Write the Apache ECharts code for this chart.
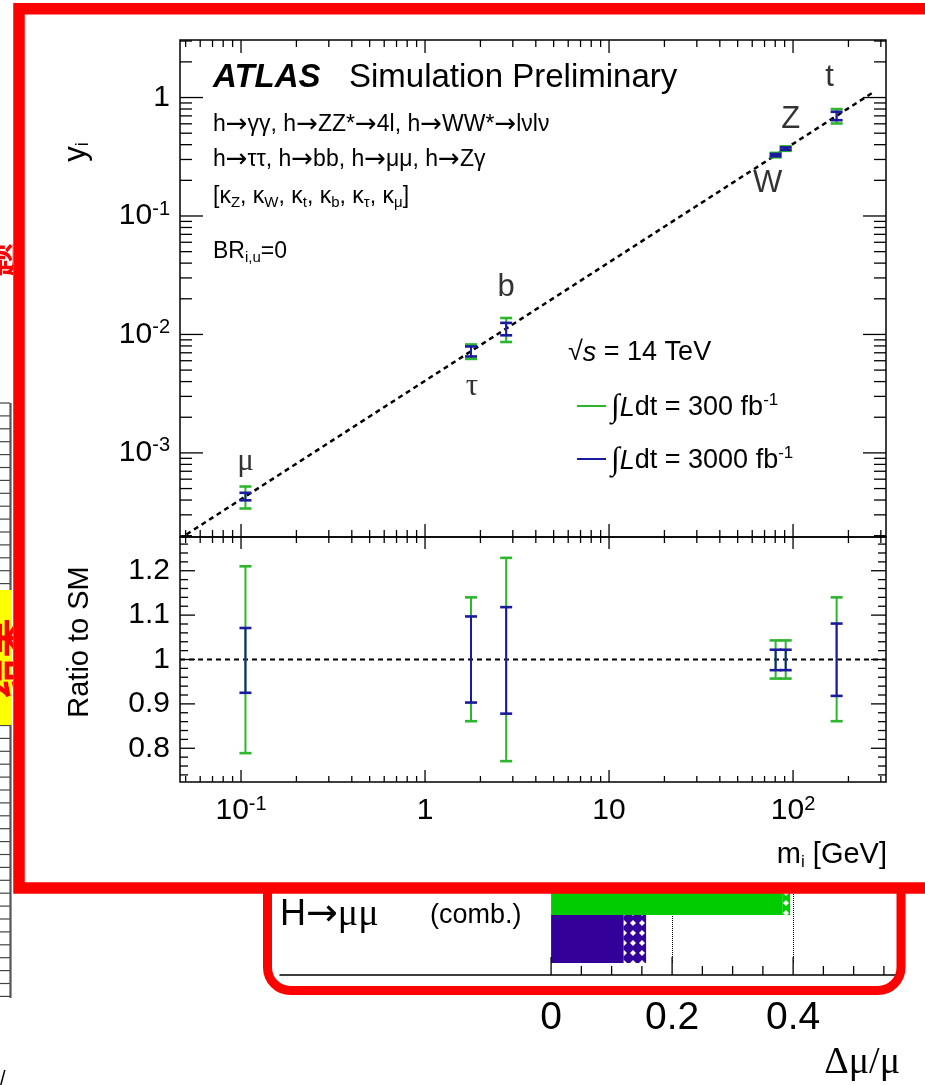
<!DOCTYPE html>
<html>
<head>
<meta charset="utf-8">
<script src="https://cdn.jsdelivr.net/npm/echarts@6/dist/echarts.min.js"></script>
<style>
  html, body { margin: 0; padding: 0; background: #ffffff; }
  #main { width: 925px; height: 1085px; }
</style>
</head>
<body>
<div id="main"></div>
<script>
// ---- Data -------------------------------------------------------------
// Fermion / boson masses m_i [GeV]
const particles = ['μ', 'τ', 'b', 'W', 'Z', 't'];
const masses = [0.1057, 1.777, 2.76, 80.4, 91.2, 172.5];
// Reduced couplings y_i (central values)
const yValues = [4.30e-4, 7.22e-3, 1.12e-2, 0.327, 0.371, 0.701];
// Ratio-to-SM uncertainty ranges, 300 fb-1
const ratio300Lo = [0.789, 0.861, 0.771, 0.957, 0.957, 0.861];
const ratio300Hi = [1.210, 1.140, 1.229, 1.043, 1.043, 1.140];
// Ratio-to-SM uncertainty ranges, 3000 fb-1
const ratio3000Lo = [0.925, 0.903, 0.878, 0.976, 0.976, 0.918];
const ratio3000Hi = [1.071, 1.097, 1.118, 1.022, 1.022, 1.081];
// SM expectation y = m / v (end points of the dashed line)
const smLineMass = [0.0505, 270];
const smLineY = [2.05e-4, 1.097];
// Tick labels
const massTickValues = [0.1, 1, 10, 100];
const massTickBase = ['10', '1', '10', '10'];
const massTickExp = ['-1', '', '', '2'];
const yTickValues = [1e-3, 1e-2, 1e-1, 1];
const yTickBase = ['10', '10', '10', '1'];
const yTickExp = ['-3', '-2', '-1', ''];
const ratioTickValues = [0.8, 0.9, 1.0, 1.1, 1.2];
const ratioTickLabels = ['0.8', '0.9', '1', '1.1', '1.2'];
// H -> mumu signal-strength precision Δμ/μ
const muCategories = ['3000 fb-1', '300 fb-1'];
const muStat = [0.120, 0.382];
const muTotal = [0.157, 0.395];
const muTickValues = [0, 0.2, 0.4];
const muTickLabels = ['0', '0.2', '0.4'];

// ---- Layout & style -------------------------------------------------------
const FONT = '"Liberation Sans", Arial, Helvetica, sans-serif';
const SERIF = '"Liberation Serif", "Times New Roman", serif';
const ARROW_FONT = '"DejaVu Sans", sans-serif';
const GREEN = '#2db52d';
const BLUE = '#1a1a9c';
const BAR_GREEN = '#00cc00';
const BAR_BLUE = '#330099';
const X_MIN = 0.0466, X_MAX = 320;
const Y_MIN = 1.95e-4, Y_MAX = 3.06;
const R_MIN = 0.724, R_MAX = 1.276;
const MU_MIN = -0.448, MU_MAX = 0.570;
const particleLabelOffsets = [[0, -34], [1, 36], [0, -41], [-8, 28], [5, -29], [-7, -38]];
const particleLabelFonts = [SERIF, SERIF, FONT, FONT, FONT, FONT];

// ---- Helpers -------------------------------------------------------------
function logTicks(min, max) {
  const out = [];
  for (let e = Math.floor(Math.log10(min)); e <= Math.ceil(Math.log10(max)); e++) {
    for (let k = 1; k <= 9; k++) {
      const v = k * Math.pow(10, e);
      if (v >= min * 1.0001 && v <= max * 0.9999) out.push([v, k === 1 ? 1 : 0]);
    }
  }
  return out;
}
function linTicks(step, iFrom, iTo, majorEvery) {
  const out = [];
  for (let i = iFrom; i <= iTo; i++) out.push([+(i * step).toFixed(6), i % majorEvery === 0 ? 1 : 0]);
  return out;
}
function matchIndex(v, values, log) {
  for (let i = 0; i < values.length; i++) {
    const d = log ? Math.abs(Math.log10(v) - Math.log10(values[i])) : Math.abs(v - values[i]);
    if (d < 1e-6) return i;
  }
  return -1;
}
function powerLabel(v, values, base, exp) {
  const i = matchIndex(v, values, true);
  if (i < 0) return '';
  return '{b|' + base[i] + '}' + (exp[i] ? '{p|' + exp[i] + '}' : '');
}
const tickRich = {
  b: { fontSize: 30, fontFamily: FONT, color: '#000', lineHeight: 34 },
  p: { fontSize: 20, fontFamily: FONT, color: '#000', lineHeight: 20, verticalAlign: 'top' }
};

// Tick marks drawn inward on the frame, positioned by the axis scales
function xTickSeries(idx, ticks, yRef, majorLen, minorLen, withTop, bottomOffset) {
  return {
    type: 'custom', xAxisIndex: idx, yAxisIndex: idx, z: 12, silent: true,
    encode: { x: 0, y: 1 },
    data: ticks.map(t => [t[0], yRef, t[1]]),
    renderItem(params, api) {
      const cs = params.coordSys;
      const x = api.coord([api.value(0), yRef])[0];
      const len = api.value(2) ? majorLen : minorLen;
      const yb = cs.y + cs.height + (bottomOffset || 0);
      const kids = [{ type: 'line', shape: { x1: x, y1: yb, x2: x, y2: yb - len }, style: { stroke: '#000', lineWidth: 1.3 } }];
      if (withTop) kids.push({ type: 'line', shape: { x1: x, y1: cs.y, x2: x, y2: cs.y + len }, style: { stroke: '#000', lineWidth: 1.3 } });
      return { type: 'group', children: kids };
    }
  };
}
function yTickSeries(idx, ticks, xRef, majorLen, minorLen) {
  return {
    type: 'custom', xAxisIndex: idx, yAxisIndex: idx, z: 12, silent: true,
    encode: { x: 0, y: 1 },
    data: ticks.map(t => [xRef, t[0], t[1]]),
    renderItem(params, api) {
      const cs = params.coordSys;
      const y = api.coord([xRef, api.value(1)])[1];
      const len = api.value(2) ? majorLen : minorLen;
      const xr = cs.x + cs.width;
      return { type: 'group', children: [
        { type: 'line', shape: { x1: cs.x, y1: y, x2: cs.x + len, y2: y }, style: { stroke: '#000', lineWidth: 1.3 } },
        { type: 'line', shape: { x1: xr, y1: y, x2: xr - len, y2: y }, style: { stroke: '#000', lineWidth: 1.3 } }
      ] };
    }
  };
}
function errorBars(idx, xs, lo, hi, color, lw, capHalf, z) {
  return {
    type: 'custom', xAxisIndex: idx, yAxisIndex: idx, z: z, silent: true,
    encode: { x: 0, y: [1, 2] },
    data: xs.map((x, i) => [x, lo[i], hi[i]]),
    renderItem(params, api) {
      const x = api.value(0);
      const a = api.coord([x, api.value(1)]);
      const b = api.coord([x, api.value(2)]);
      return { type: 'group', children: [
        { type: 'line', shape: { x1: a[0], y1: a[1], x2: b[0], y2: b[1] }, style: { stroke: color, lineWidth: lw } },
        { type: 'line', shape: { x1: a[0] - capHalf, y1: a[1], x2: a[0] + capHalf, y2: a[1] }, style: { stroke: color, lineWidth: lw + 0.6 } },
        { type: 'line', shape: { x1: b[0] - capHalf, y1: b[1], x2: b[0] + capHalf, y2: b[1] }, style: { stroke: color, lineWidth: lw + 0.6 } }
      ] };
    }
  };
}
function text(x, y, str, size, opts) {
  opts = opts || {};
  const style = Object.assign({
    text: str, fill: '#000', fontSize: size, fontFamily: FONT,
    align: 'left', verticalAlign: 'middle', textAlign: 'left', textVerticalAlign: 'middle'
  }, opts.style || {});
  return Object.assign({ type: 'text', x: x, y: y, z: opts.z || 15, silent: true, style: style }, opts.el || {});
}
function rs(size, extra) {
  return Object.assign({ fontSize: size, fontFamily: FONT, color: '#000', fill: '#000' }, extra || {});
}
// rich text where every "→" is set in a wider arrow glyph
function arrowText(str) {
  return str.split('→').map(s => s ? '{n|' + s + '}' : '').join('{a|→}');
}
function arrowRich(size) {
  return { n: rs(size, { lineHeight: size + 4 }), a: rs(size + 3, { fontFamily: ARROW_FONT, lineHeight: size + 4 }) };
}

// ---- Derived plotting arrays ---------------------------------------------
const top300Lo = yValues.map((y, i) => y * ratio300Lo[i]);
const top300Hi = yValues.map((y, i) => y * ratio300Hi[i]);
const top3000Lo = yValues.map((y, i) => y * ratio3000Lo[i]);
const top3000Hi = yValues.map((y, i) => y * ratio3000Hi[i]);
const muSyst = muTotal.map((t, i) => +(t - muStat[i]).toFixed(4));

// ---- Decorations: frames, legend, annotations ------------------------------
const graphics = [];
// background page strip on the left
for (let y = 403; y <= 998; y += 12.9) {
  graphics.push({ type: 'line', z: 1, silent: true, shape: { x1: 0, y1: y, x2: 10, y2: y }, style: { stroke: '#444', lineWidth: 1.2 } });
}
graphics.push({ type: 'line', z: 1, silent: true, shape: { x1: 10.5, y1: 403, x2: 10.5, y2: 998 }, style: { stroke: '#555', lineWidth: 2.2 } });
graphics.push({ type: 'rect', z: 2, silent: true, shape: { x: 0, y: 590, width: 12, height: 135 }, style: { fill: '#ffff00' } });
graphics.push(text(2, 658, '结果', 40, { z: 3, style: { fill: '#ff0000', fontWeight: 'bold', align: 'center', textAlign: 'center', fontFamily: '"Noto Sans CJK SC", sans-serif' }, el: { rotation: Math.PI / 2 } }));
graphics.push(text(0, 260, '题', 34, { z: 3, style: { fill: '#ff0000', fontWeight: 'bold', align: 'center', textAlign: 'center', fontFamily: '"Noto Sans CJK SC", sans-serif' }, el: { rotation: Math.PI / 2 } }));
graphics.push(text(0, 1079, '/', 20, { z: 3 }));

// second (rounded) frame around the Δμ/μ panel
graphics.push({ type: 'rect', z: 4, silent: true, shape: { x: 267.5, y: 840, width: 633.5, height: 150.5, r: 23 }, style: { fill: 'none', stroke: '#ff0000', lineWidth: 9 } });
// Δμ/μ panel labels
graphics.push(text(280, 915, '{n|H}{a|→}{g|μμ}', 36, { z: 3, style: { rich: {
  n: rs(36, { lineHeight: 40 }), a: rs(38, { fontFamily: ARROW_FONT, lineHeight: 40 }), g: rs(38, { fontFamily: SERIF, lineHeight: 40 }) } } }));
graphics.push(text(430, 916, '(comb.)', 27, { z: 3 }));
graphics.push(text(900, 1063, 'Δμ/μ', 38, { z: 3, style: { fontFamily: SERIF, align: 'right', textAlign: 'right' } }));

// white page under the coupling plot
graphics.push({ type: 'rect', z: 5, silent: true, shape: { x: 13, y: 3, width: 912, height: 890 }, style: { fill: '#ffffff' } });
// outer red frame
graphics.push({ type: 'rect', z: 20, silent: true, shape: { x: 19, y: 8.75, width: 930, height: 879.25 }, style: { fill: 'none', stroke: '#ff0000', lineWidth: 11.5 } });

// plot annotations
graphics.push(text(213, 78, 'ATLAS', 33, { style: { fontStyle: 'italic', fontWeight: 'bold' } }));
graphics.push(text(349, 78, 'Simulation Preliminary', 33));
graphics.push(text(213, 125, arrowText('h→γγ, h→ZZ*→4l, h→WW*→lνlν'), 23, { style: { rich: arrowRich(23) } }));
graphics.push(text(213, 160, arrowText('h→ττ, h→bb, h→μμ, h→Zγ'), 23, { style: { rich: arrowRich(23) } }));
graphics.push(text(213, 197,
  '{n|[κ}{s|Z}{n|, κ}{s|W}{n|, κ}{s|t}{n|, κ}{s|b}{n|, κ}{s|τ}{n|, κ}{s|μ}{n|]}', 23,
  { style: { rich: { n: rs(23, { lineHeight: 26 }), s: rs(15, { lineHeight: 14, verticalAlign: 'bottom' }) } } }));
graphics.push(text(213, 252, '{n|BR}{s|i,u}{n|=0}', 23,
  { style: { rich: { n: rs(23, { lineHeight: 26 }), s: rs(15, { lineHeight: 14, verticalAlign: 'bottom' }) } } }));

// legend
graphics.push(text(568, 353, '{n|√}{i|s}{n| = 14 TeV}', 27,
  { style: { rich: { n: rs(27), i: rs(27, { fontStyle: 'italic' }) } } }));
graphics.push({ type: 'line', z: 15, silent: true, shape: { x1: 577, y1: 406, x2: 606, y2: 406 }, style: { stroke: GREEN, lineWidth: 2 } });
graphics.push({ type: 'line', z: 15, silent: true, shape: { x1: 577, y1: 459, x2: 606, y2: 459 }, style: { stroke: BLUE, lineWidth: 2 } });
const legRich = { n: rs(27, { lineHeight: 32 }), i: rs(27, { fontStyle: 'italic', lineHeight: 32 }), p: rs(17, { lineHeight: 17, verticalAlign: 'top' }), g: rs(32, { fontFamily: SERIF, lineHeight: 32 }) };
graphics.push(text(611, 408, '{g|∫}{i|L}{n|dt = 300 fb}{p|-1}', 27, { style: { rich: legRich } }));
graphics.push(text(611, 461, '{g|∫}{i|L}{n|dt = 3000 fb}{p|-1}', 27, { style: { rich: legRich } }));

// axis titles
graphics.push(text(76, 152, '{n|y}{s|i}', 31, {
  style: { align: 'center', textAlign: 'center', rich: { n: rs(31, { lineHeight: 32 }), s: rs(18, { lineHeight: 18, verticalAlign: 'bottom' }) } },
  el: { rotation: Math.PI / 2 } }));
graphics.push(text(80, 642, 'Ratio to SM', 29, { style: { align: 'center', textAlign: 'center' }, el: { rotation: Math.PI / 2 } }));
graphics.push(text(887, 855, '{n|m}{s|i}{n| [GeV]}', 29, {
  style: { align: 'right', textAlign: 'right', rich: { n: rs(29, { lineHeight: 32 }), s: rs(17, { lineHeight: 16, verticalAlign: 'bottom' }) } } }));

// ---- Chart ---------------------------------------------------------------
const chart = echarts.init(document.getElementById('main'));
const hiddenAxisParts = { axisLine: { show: false }, axisTick: { show: false }, splitLine: { show: false }, minorTick: { show: false } };

chart.setOption({
  animation: false,
  backgroundColor: 'transparent',
  textStyle: { fontFamily: FONT },
  grid: [
    { left: 180, top: 40, width: 706, height: 497, show: true, borderColor: '#000', borderWidth: 1.5, backgroundColor: 'transparent', z: 10, containLabel: false, outerBoundsMode: 'none' },
    { left: 180, top: 537, width: 706, height: 245, show: true, borderColor: '#000', borderWidth: 1.5, backgroundColor: 'transparent', z: 10, containLabel: false, outerBoundsMode: 'none' },
    { left: 280, top: 867, width: 616, height: 96, show: false, z: 0, containLabel: false, outerBoundsMode: 'none' }
  ],
  xAxis: [
    Object.assign({ gridIndex: 0, type: 'log', logBase: 10, min: X_MIN, max: X_MAX, z: 10, axisLabel: { show: false } }, hiddenAxisParts),
    Object.assign({ gridIndex: 1, type: 'log', logBase: 10, min: X_MIN, max: X_MAX, z: 10,
      axisLabel: { show: true, margin: 12, showMinLabel: false, showMaxLabel: false, hideOverlap: false,
        formatter: v => powerLabel(v, massTickValues, massTickBase, massTickExp), rich: tickRich } }, hiddenAxisParts),
    { gridIndex: 2, type: 'value', min: MU_MIN, max: MU_MAX, offset: 12, z: 3,
      axisLine: { show: true, onZero: false, lineStyle: { color: '#000', width: 1.5 } },
      axisTick: { show: false }, splitLine: { show: false }, minorTick: { show: false },
      axisLabel: { show: true, margin: 24, fontSize: 39, fontFamily: FONT, color: '#000', showMinLabel: false, showMaxLabel: false,
        formatter: v => { const i = matchIndex(v, muTickValues, false); return i < 0 ? '' : muTickLabels[i]; } } }
  ],
  yAxis: [
    Object.assign({ gridIndex: 0, type: 'log', logBase: 10, min: Y_MIN, max: Y_MAX, z: 10,
      axisLabel: { show: true, margin: 10, showMinLabel: false, showMaxLabel: false, hideOverlap: false,
        formatter: v => powerLabel(v, yTickValues, yTickBase, yTickExp), rich: tickRich } }, hiddenAxisParts),
    Object.assign({ gridIndex: 1, type: 'value', min: R_MIN, max: R_MAX, z: 10,
      axisLabel: { show: true, margin: 10, fontSize: 30, fontFamily: FONT, color: '#000', showMinLabel: false, showMaxLabel: false, hideOverlap: false,
        formatter: v => { const i = matchIndex(v, ratioTickValues, false); return i < 0 ? '' : ratioTickLabels[i]; } } }, hiddenAxisParts),
    { gridIndex: 2, type: 'category', data: muCategories, show: false, axisLine: { show: false }, axisTick: { show: false } }
  ],
  graphic: { elements: graphics },
  series: [
    // SM expectation in the coupling panel
    { type: 'line', xAxisIndex: 0, yAxisIndex: 0, z: 11, silent: true, symbol: 'none',
      data: smLineMass.map((m, i) => [m, smLineY[i]]),
      lineStyle: { color: '#000', width: 2.5, type: [5, 4] } },
    errorBars(0, masses, top300Lo, top300Hi, GREEN, 2, 6, 12),
    errorBars(0, masses, top3000Lo, top3000Hi, BLUE, 2, 6, 13),
    { type: 'scatter', xAxisIndex: 0, yAxisIndex: 0, z: 13, silent: true, symbolSize: 1,
      itemStyle: { color: 'rgba(0,0,0,0)' },
      data: particles.map((p, i) => ({ name: p, value: [masses[i], yValues[i]],
        label: { offset: particleLabelOffsets[i], fontFamily: particleLabelFonts[i] } })),
      label: { show: true, position: 'inside', formatter: '{b}', fontSize: 31, fontFamily: FONT, color: '#000' } },
    // ratio panel
    { type: 'line', xAxisIndex: 1, yAxisIndex: 1, z: 11, silent: true, symbol: 'none',
      data: [[X_MIN, 1], [X_MAX, 1]],
      lineStyle: { color: '#000', width: 2, type: [5, 4] } },
    errorBars(1, masses, ratio300Lo, ratio300Hi, GREEN, 2, 6, 12),
    errorBars(1, masses, ratio3000Lo, ratio3000Hi, BLUE, 2, 6, 13),
    // frame ticks
    xTickSeries(0, logTicks(X_MIN, X_MAX), 0.01, 13, 7, true),
    yTickSeries(0, logTicks(Y_MIN, Y_MAX), 1, 23, 12),
    xTickSeries(1, logTicks(X_MIN, X_MAX), 1, 12, 6, true),
    yTickSeries(1, linTicks(0.02, 37, 63, 5), 1, 15, 8),
    // Δμ/μ panel
    { type: 'bar', xAxisIndex: 2, yAxisIndex: 2, stack: 'mu', z: 2, silent: true, barWidth: '100%',
      data: muStat.map((v, i) => ({ value: v, itemStyle: { color: i === 0 ? BAR_BLUE : BAR_GREEN } })),
      markLine: { silent: true, z: 1, symbol: 'none', label: { show: false },
        lineStyle: { color: '#000', type: 'dotted', width: 1 },
        data: [{ xAxis: muTickValues[1] }, { xAxis: muTickValues[2] }] } },
    { type: 'bar', xAxisIndex: 2, yAxisIndex: 2, stack: 'mu', z: 2, silent: true, barWidth: '100%',
      data: muSyst.map((v, i) => ({ value: v, itemStyle: { color: i === 0 ? BAR_BLUE : BAR_GREEN } })),
      itemStyle: { decal: { symbol: 'diamond', symbolSize: 1, color: '#ffffff', dashArrayX: [6, 3], dashArrayY: [6, 3.5] } } },
    xTickSeries(2, linTicks(0.05, 0, 11, 4), 0, 18, 9, false, 12)
  ]
});
</script>
</body>
</html>
